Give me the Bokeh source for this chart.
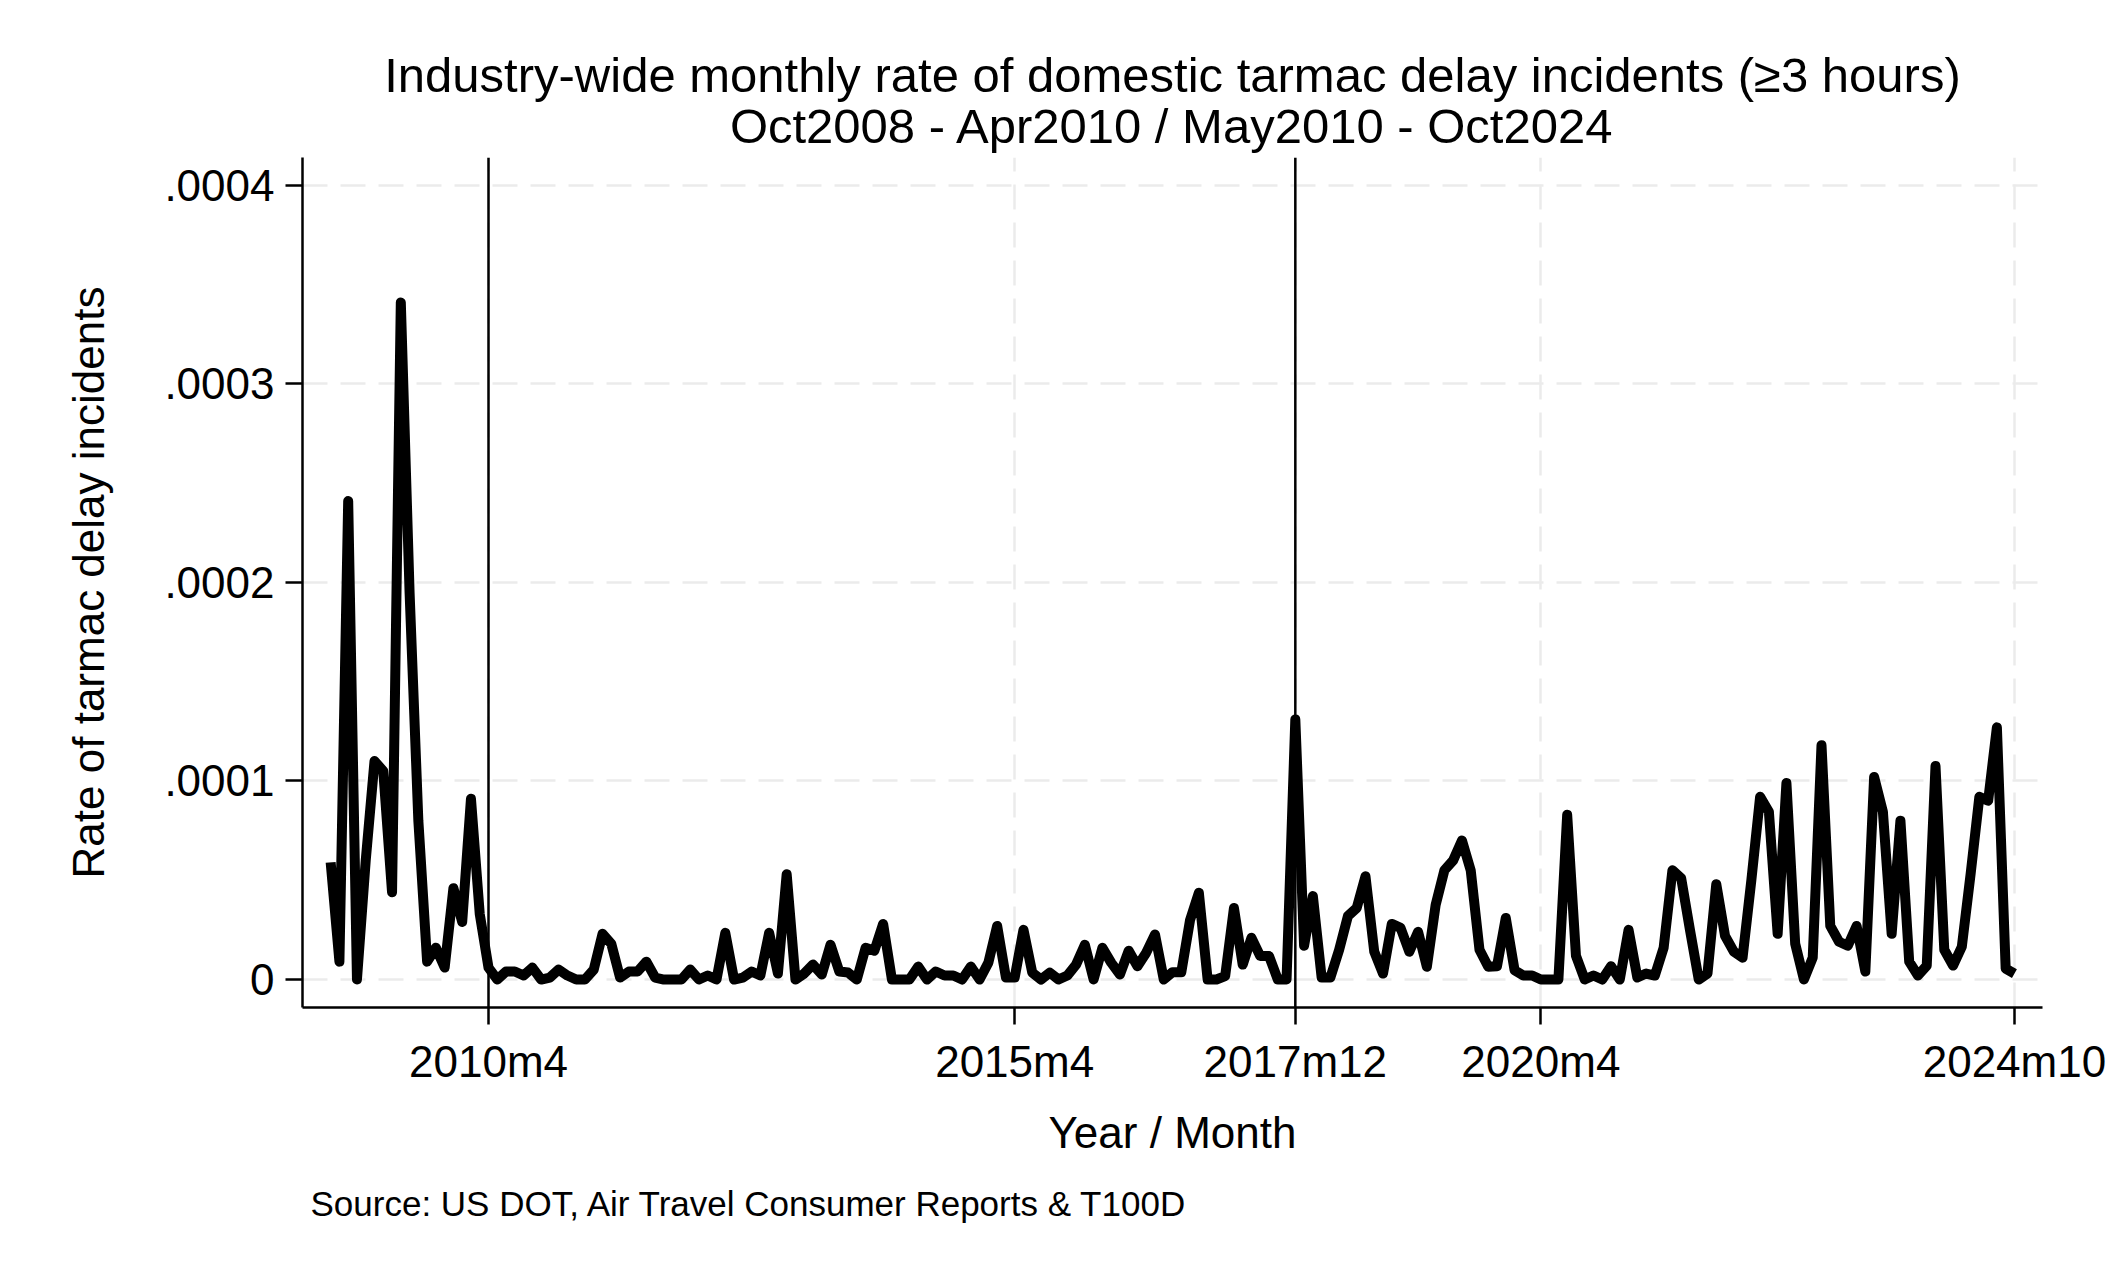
from bokeh.plotting import figure
from bokeh.models import FixedTicker, Span, Range1d, ColumnDataSource, Title
from bokeh.embed import file_html
from bokeh.resources import INLINE

# Monthly series, Oct2008 .. Oct2024 (193 months), rate of tarmac delays >= 3 hours
start_year, start_month = 2008, 10
rate_e4 = [
    0.59, 0.09, 2.41, 0.00, 0.60, 1.10, 1.05, 0.44, 3.41, 1.95,   # 2008m10-2009m7
    0.80, 0.09, 0.16, 0.06, 0.46, 0.29, 0.91, 0.33, 0.06, 0.00,   # 2009m8-2010m5
    0.04, 0.04, 0.02, 0.06, 0.00, 0.01, 0.05, 0.02, 0.00, 0.00,
    0.05, 0.23, 0.18, 0.01, 0.04, 0.04, 0.09, 0.01, 0.00, 0.00,
    0.00, 0.05, 0.00, 0.02, 0.00, 0.235, 0.00, 0.01, 0.04, 0.02,
    0.235, 0.03, 0.53, 0.00, 0.03, 0.075, 0.025, 0.175, 0.04, 0.035,
    0.00, 0.16, 0.145, 0.28, 0.00, 0.00, 0.00, 0.065, 0.00, 0.04,
    0.02, 0.02, 0.00, 0.065, 0.00, 0.085, 0.27, 0.01, 0.01, 0.25,
    0.035, 0.00, 0.035, 0.00, 0.02, 0.075, 0.175, 0.00, 0.16, 0.085,
    0.025, 0.145, 0.067, 0.135, 0.227, 0.00, 0.037, 0.037, 0.30, 0.437,
    0.00, 0.00, 0.017, 0.36, 0.075, 0.21, 0.118, 0.118, 0.00, 0.00,
    1.31, 0.17, 0.42, 0.01, 0.01, 0.15, 0.32, 0.36, 0.52, 0.14,
    0.03, 0.28, 0.26, 0.14, 0.24, 0.064, 0.375, 0.55, 0.60, 0.70,
    0.55, 0.15, 0.064, 0.067, 0.31, 0.047, 0.02, 0.02, 0.00, 0.00,
    0.00, 0.83, 0.12, 0.00, 0.02, 0.00, 0.067, 0.00, 0.25, 0.01,
    0.03, 0.02, 0.16, 0.55, 0.51, 0.25, 0.00, 0.03, 0.48, 0.22,
    0.14, 0.11, 0.50, 0.92, 0.845, 0.23, 0.99, 0.18, 0.00, 0.11,
    1.18, 0.27, 0.19, 0.17, 0.27, 0.04, 1.02, 0.845, 0.23, 0.80,
    0.09, 0.02, 0.07, 1.075, 0.15, 0.07, 0.165, 0.53, 0.92, 0.90,
    1.27, 0.055, 0.03,
]
rates = [v * 1e-4 for v in rate_e4]

# Stata-style month labels, e.g. "2010m4"
month_labels = []
y, mth = start_year, start_month
for _ in rates:
    month_labels.append(f"{y}m{mth}")
    mth += 1
    if mth > 12:
        mth, y = 1, y + 1
month_index = list(range(len(rates)))

x_tick_labels = ["2010m4", "2015m4", "2017m12", "2020m4", "2024m10"]
regime_breaks = ["2010m4", "2017m12"]
y_ticks = [0.0, 0.0001, 0.0002, 0.0003, 0.0004]
y_tick_labels = ["0", ".0001", ".0002", ".0003", ".0004"]

x_ticks = [month_labels.index(lbl) for lbl in x_tick_labels]
break_idx = [month_labels.index(lbl) for lbl in regime_breaks]

FONT = "Liberation Sans"
W, H = 2126, 1276
LEFT, RIGHT, TOP, BOTTOM = 302, 84, 157, 269
x_lo, x_hi = -3.21, 195.2
y_lo, y_hi = -0.0000141, 0.000414

p = figure(width=W, height=H, output_backend="svg", toolbar_location=None,
           x_range=Range1d(x_lo, x_hi), y_range=Range1d(y_lo, y_hi),
           min_border_left=LEFT, min_border_right=RIGHT,
           min_border_top=TOP, min_border_bottom=BOTTOM,
           background_fill_color="white", border_fill_color="white")
p.outline_line_color = None

# grid
grid_color = "#EBEBEB"
p.xgrid.ticker = FixedTicker(ticks=x_ticks)
p.ygrid.ticker = FixedTicker(ticks=y_ticks)
for g in (p.xgrid, p.ygrid):
    g.grid_line_color = grid_color
    g.grid_line_width = 2.5
    g.grid_line_dash = "25 13"

# axes
p.xaxis.ticker = FixedTicker(ticks=x_ticks)
p.xaxis.major_label_overrides = {t: l for t, l in zip(x_ticks, x_tick_labels)}
p.yaxis.ticker = FixedTicker(ticks=y_ticks)
p.yaxis.major_label_overrides = {t: l for t, l in zip(y_ticks, y_tick_labels)}
p.xaxis.axis_label = "Year / Month"
p.yaxis.axis_label = "Rate of tarmac delay incidents"
for ax in (p.xaxis, p.yaxis):
    ax.axis_line_color = "black"
    ax.axis_line_width = 2.5
    ax.major_tick_line_color = "black"
    ax.major_tick_line_width = 2.5
    ax.major_tick_out = 17
    ax.major_tick_in = 0
    ax.minor_tick_line_color = None
    ax.major_label_text_font = FONT
    ax.major_label_text_font_size = "44px"
    ax.major_label_text_color = "black"
    ax.axis_label_text_font = FONT
    ax.axis_label_text_font_size = "44px"
    ax.axis_label_text_font_style = "normal"
    ax.axis_label_text_color = "black"
p.xaxis.major_label_standoff = 12
p.yaxis.major_label_standoff = 11
p.xaxis.axis_label_standoff = 19
p.yaxis.axis_label_standoff = 48

# regime-change markers
for b in break_idx:
    p.add_layout(Span(location=b, dimension="height", line_color="black", line_width=2.5))

src = ColumnDataSource(dict(x=month_index, y=rates, label=month_labels))
p.line("x", "y", source=src, line_color="black", line_width=10, line_join="round")

# two-line title (first added sits closest to the plot) and source note
p.add_layout(Title(text="Oct2008 - Apr2010 / May2010 - Oct2024", align="center",
                   text_font=FONT, text_font_size="49px", text_font_style="normal",
                   text_color="black", standoff=9), "above")
p.add_layout(Title(text="Industry-wide monthly rate of domestic tarmac delay incidents (≥3 hours)",
                   align="center", text_font=FONT, text_font_size="49px",
                   text_font_style="normal", text_color="black", standoff=-18), "above")
p.add_layout(Title(text="Source: US DOT, Air Travel Consumer Reports & T100D", align="left",
                   offset=8, text_font=FONT, text_font_size="35px", text_font_style="normal",
                   text_color="black", standoff=44), "below")

open("out.html", "w").write(file_html(p, INLINE))
